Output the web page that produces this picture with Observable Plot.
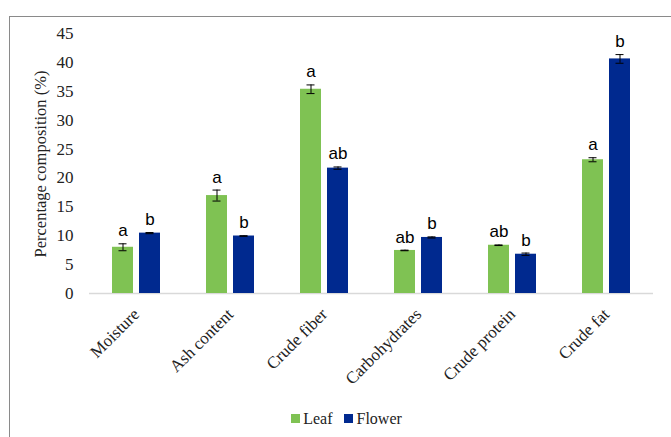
<!DOCTYPE html>
<html>
<head>
<meta charset="utf-8">
<script src="https://cdn.jsdelivr.net/npm/d3@7"></script>
<script src="https://cdn.jsdelivr.net/npm/@observablehq/plot@0.6"></script>
<style>
  html, body { margin: 0; padding: 0; background: #fff; }
  #wrap { position: relative; width: 671px; height: 437px; overflow: hidden; }
  #frame { position: absolute; left: 9px; top: 16px; width: 700px; height: 460px;
           border-left: 1px solid #8a8a8a; border-top: 1px solid #8a8a8a; pointer-events: none; }
  #chart { position: absolute; left: 0; top: 0; }
  #ytitle { position: absolute; left: 41px; top: 164px; transform: translate(-50%, -50%) rotate(-90deg);
            white-space: nowrap; font-family: "Liberation Serif", serif; font-size: 16.5px; color: #222; }
  #legend { position: absolute; left: 0; top: 400px; width: 671px; height: 37px;
            display: flex; justify-content: center; align-items: center; gap: 12px;
            font-family: "Liberation Serif", serif; font-size: 16px; color: #222; padding-left: 22px; box-sizing: border-box; }
  #legend span.sw { display: inline-block; width: 9px; height: 9px; margin-right: 3px; }
  #legend .item { display: flex; align-items: center; }
</style>
</head>
<body>
<div id="wrap">
  <div id="chart"></div>
  <div id="ytitle">Percentage composition (%)</div>
  <div id="legend"></div>
  <div id="frame"></div>
</div>
<script>
const categories = ["Moisture", "Ash content", "Crude fiber", "Carbohydrates", "Crude protein", "Crude fat"];
const series = ["Leaf", "Flower"];
const colors = ["#7fc253", "#00298f"];
const leafValues = [8.0, 16.95, 35.35, 7.45, 8.35, 23.15];
const leafErrors = [0.6, 0.95, 0.75, 0.05, 0.05, 0.35];
const flowerValues = [10.45, 9.95, 21.7, 9.7, 6.8, 40.6];
const flowerErrors = [0.1, 0.05, 0.2, 0.1, 0.2, 0.75];
const leafLetters = ["a", "a", "a", "ab", "ab", "a"];
const flowerLetters = ["b", "b", "ab", "b", "b", "b"];
const yTicks = [0, 5, 10, 15, 20, 25, 30, 35, 40, 45];

const rows = [];
categories.forEach((c, i) => {
  rows.push({category: c, series: "Leaf", value: leafValues[i], err: leafErrors[i], letter: leafLetters[i]});
  rows.push({category: c, series: "Flower", value: flowerValues[i], err: flowerErrors[i], letter: flowerLetters[i]});
});

const chart = Plot.plot({
  width: 671,
  height: 400,
  marginLeft: 89,
  marginRight: 18,
  marginTop: 33,
  marginBottom: 107,
  style: {fontFamily: "'Liberation Serif', serif", fontSize: "17px", color: "#222", background: "transparent"},
  fx: {domain: categories, padding: 0, axis: "bottom", label: null, tickRotate: -45, tickSize: 0, tickPadding: 18},
  x: {domain: series, paddingInner: 0.22, paddingOuter: 0.85, axis: null},
  y: {domain: [0, 45], ticks: yTicks, tickSize: 0, tickPadding: 16, label: null, tickFormat: d => String(d)},
  color: {domain: series, range: colors},
  marks: [
    Plot.ruleY([0], {stroke: "#d9d9d9", strokeWidth: 1.5}),
    Plot.barY(rows, {fx: "category", x: "series", y: "value", fill: "series"}),
    Plot.ruleX(rows, {fx: "category", x: "series", y1: d => d.value - d.err, y2: d => d.value + d.err, stroke: "#000", strokeWidth: 1}),
    Plot.tickY(rows, {fx: "category", x: "series", y: d => d.value + d.err, stroke: "#000", strokeWidth: 1, insetLeft: 6.5, insetRight: 6.5}),
    Plot.tickY(rows, {fx: "category", x: "series", y: d => d.value - d.err, stroke: "#000", strokeWidth: 1, insetLeft: 6.5, insetRight: 6.5}),
    Plot.text(rows, {fx: "category", x: "series", y: d => d.value + d.err, text: "letter", dy: -13, fontFamily: "'Liberation Sans', sans-serif", fontSize: 17, fill: "#000"})
  ]
});
document.getElementById("chart").appendChild(chart);

const legend = document.getElementById("legend");
series.forEach((s, i) => {
  const item = document.createElement("div");
  item.className = "item";
  const sw = document.createElement("span");
  sw.className = "sw";
  sw.style.background = colors[i];
  item.appendChild(sw);
  item.appendChild(document.createTextNode(s));
  legend.appendChild(item);
});
</script>
</body>
</html>
